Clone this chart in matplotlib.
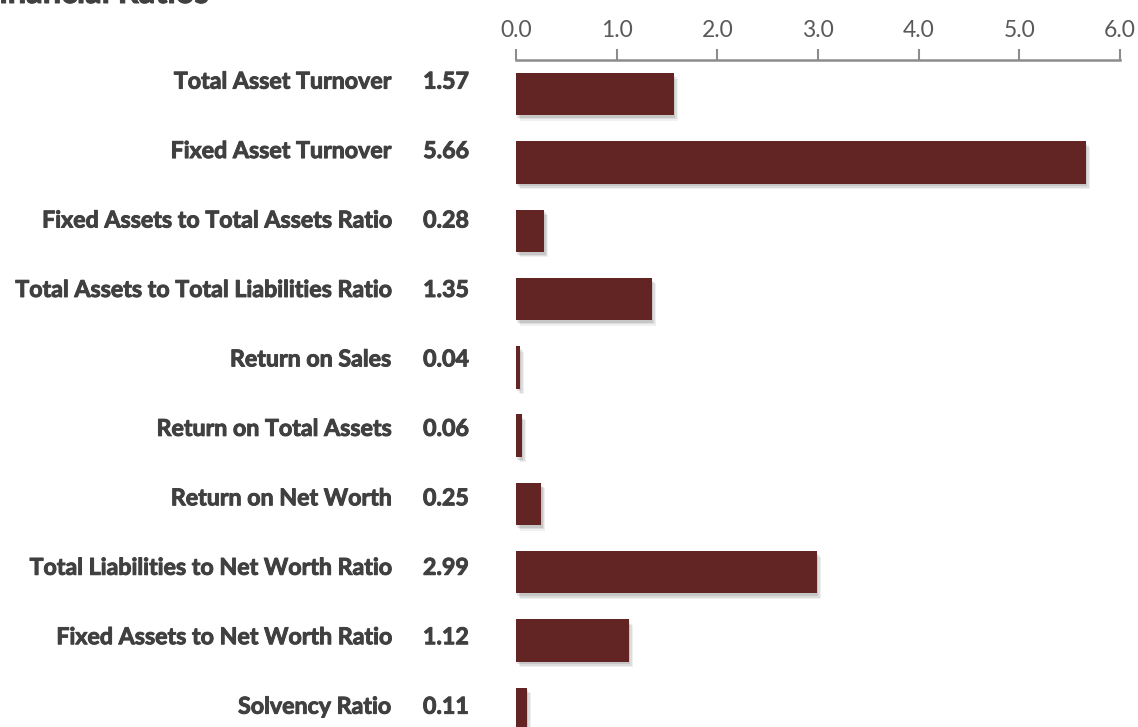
import matplotlib.pyplot as plt
import matplotlib.patheffects as pe

# 财务比率数据
ratio_names = ['Total Asset Turnover', 'Fixed Asset Turnover', 'Fixed Assets to Total Assets Ratio',
               'Total Assets to Total Liabilities Ratio', 'Return on Sales', 'Return on Total Assets',
               'Return on Net Worth', 'Total Liabilities to Net Worth Ratio', 'Fixed Assets to Net Worth Ratio',
               'Solvency Ratio']
ratio_values = [1.57, 5.66, 0.28, 1.35, 0.04, 0.06, 0.25, 2.99, 1.12, 0.11]
x_ticks = [0, 1, 2, 3, 4, 5, 6]

plt.rcParams['font.family'] = ['Lato', 'DejaVu Sans']

fig = plt.figure(figsize=(11.38, 7.27), dpi=100)
ax = fig.add_axes([0.4534, -0.022, 0.5308, 0.9395])

pos = list(range(len(ratio_values)))
bars = ax.barh(pos, ratio_values, height=0.62, color='#632523')
# 柔和阴影
for b in bars:
    b.set_path_effects([pe.SimplePatchShadow(offset=(3, -4), shadow_rgbFace='#000000', alpha=0.06),
                        pe.SimplePatchShadow(offset=(2, -3), shadow_rgbFace='#000000', alpha=0.08),
                        pe.SimplePatchShadow(offset=(1, -2), shadow_rgbFace='#000000', alpha=0.1),
                        pe.Normal()])

ax.set_ylim(9.5, -0.5)
ax.set_xlim(0, 6)
ax.set_xticks(x_ticks)
ax.set_xticklabels([f'{t:.1f}' for t in x_ticks])
ax.xaxis.tick_top()
ax.tick_params(axis='x', direction='out', length=8, width=1.5, color='#8c8c8c',
               labelsize=16.5, labelcolor='#595959', pad=6)
ax.tick_params(axis='y', length=0, labelleft=False)
for s in ['right', 'bottom', 'left']:
    ax.spines[s].set_visible(False)
ax.spines['top'].set_color('#8c8c8c')
ax.spines['top'].set_linewidth(1.8)

# 左侧名称和数值（加描边让字体更粗）
heavy = [pe.withStroke(linewidth=0.7, foreground='#404040')]
for i, (name, v) in enumerate(zip(ratio_names, ratio_values)):
    y = i - 0.176 + 0.0168 * i
    ax.text(-125 / 604 * 6, y, name, ha='right', va='center', fontsize=16.7, fontweight='bold',
            color='#404040', clip_on=False, path_effects=heavy)
    ax.text(-47 / 604 * 6, y, f'{v:.2f}', ha='right', va='center', fontsize=16.7, fontweight='bold',
            color='#404040', clip_on=False, path_effects=heavy)

fig.text(-19 / 1138, 1 - 3 / 727, 'Financial Ratios', ha='left', va='baseline', fontsize=23.5,
         fontweight='bold', color='#404040', path_effects=heavy)

fig.savefig('out.png', dpi=100)
